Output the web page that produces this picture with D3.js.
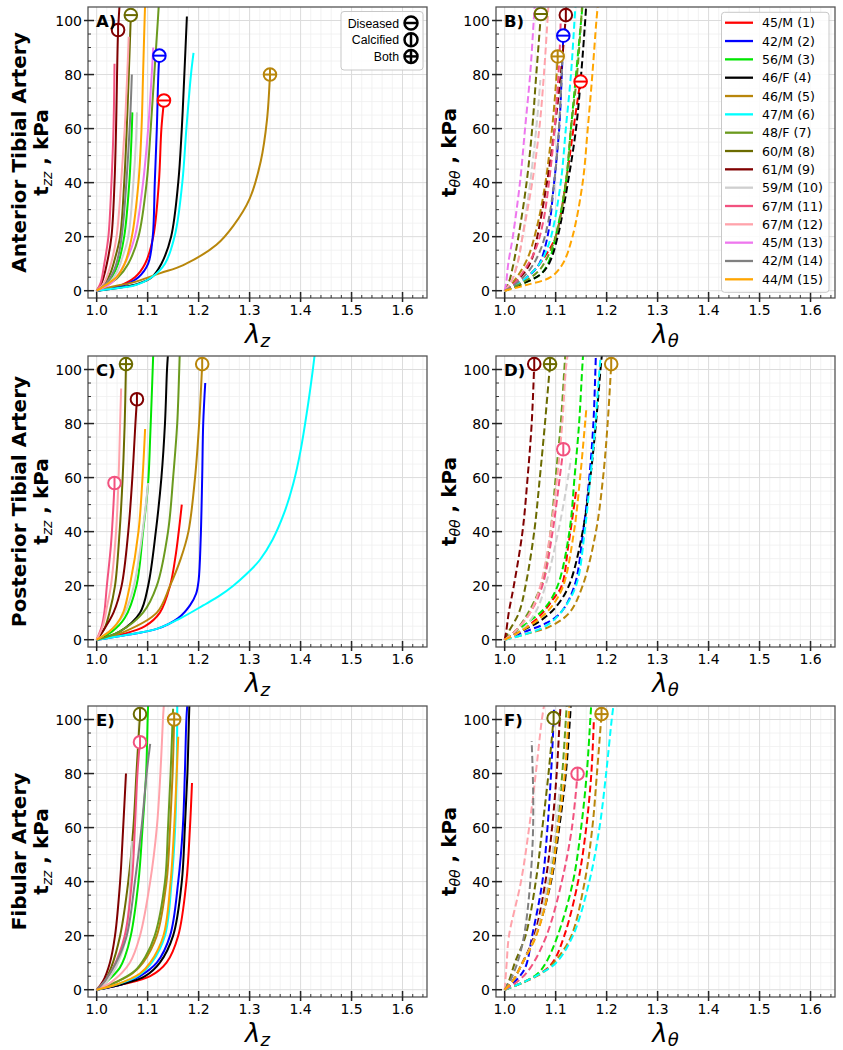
<!DOCTYPE html>
<html lang="en">
<head>
<meta charset="utf-8">
<title>Artery stress vs stretch</title>
<script src="https://d3js.org/d3.v7.min.js"></script>
<style>
  body { margin: 0; background: #fff; }
  svg text { font-family: "DejaVu Sans", sans-serif; }
</style>
</head>
<body>
<script>
// legend entries (patient age/sex (id))
const patients = ["45/M (1)", "42/M (2)", "56/M (3)", "46/F (4)", "46/M (5)", "47/M (6)", "48/F (7)",
  "60/M (8)", "61/M (9)", "59/M (10)", "67/M (11)", "67/M (12)", "45/M (13)", "42/M (14)", "44/M (15)"];
const colors = ["#ff0000", "#0000ff", "#00e600", "#000000", "#b8860b", "#00ffff", "#6b9a1e",
  "#6b6b00", "#800000", "#cfcfcf", "#f2527f", "#ffa3ab", "#ee77ee", "#808080", "#ffa500"];
const xTicks = [1.0, 1.1, 1.2, 1.3, 1.4, 1.5, 1.6];
const yTicks = [0, 20, 40, 60, 80, 100];
const markerKinds = ["Diseased", "Calcified", "Both"];

// curves [stretch, stress kPa], one per patient (null = not tested)
const antZ = [
  [[1,0],[1.04,1.5],[1.075,5],[1.095,10],[1.111,20],[1.122,40],[1.127,60],[1.132,70]],
  [[1,0],[1.05,1.8],[1.082,5],[1.101,10],[1.11,20],[1.114,40],[1.118,60],[1.121,80],[1.123,87]],
  [[1,0],[1.02,2.5],[1.03,5],[1.042,10],[1.054,20],[1.064,40],[1.069,60],[1.07,66]],
  [[1,0],[1.05,1.3],[1.08,2.5],[1.108,5],[1.127,10],[1.146,20],[1.16,40],[1.167,60],[1.172,80],[1.177,101.5]],
  [[1,0],[1.03,1.5],[1.07,3],[1.125,6.5],[1.17,9.5],[1.235,17],[1.268,24],[1.3,34],[1.322,48],[1.334,63],[1.34,80]],
  [[1,0],[1.05,1.2],[1.075,2],[1.108,5],[1.134,10],[1.154,21],[1.168,40],[1.176,60],[1.185,80],[1.19,88]],
  [[1,0],[1.02,2],[1.042,5],[1.062,10],[1.082,20],[1.098,40],[1.106,60],[1.113,80],[1.12,100],[1.122,106]],
  [[1,0],[1.015,2.5],[1.028,7],[1.036,12],[1.046,20],[1.054,40],[1.059,60],[1.063,80],[1.067,102]],
  [[1,0],[1.01,3],[1.02,10],[1.029,20],[1.035,40],[1.038,60],[1.04,80],[1.042,96],[1.045,106]],
  [[1,0],[1.025,3],[1.04,7],[1.05,12],[1.062,20],[1.072,40],[1.077,55],[1.079,66]],
  [[1,0],[1.008,3],[1.015,10],[1.023,20],[1.029,40],[1.033,60],[1.035,84]],
  [[1,0],[1.015,3],[1.028,10],[1.039,20],[1.048,40],[1.055,60],[1.06,80],[1.063,94]],
  [[1,0],[1.03,3],[1.055,10],[1.075,20],[1.091,40],[1.101,60],[1.108,80],[1.111,90]],
  [[1,0],[1.02,3],[1.035,8],[1.045,15],[1.052,25],[1.06,45],[1.066,65],[1.069,80]],
  [[1,0],[1.025,3],[1.039,5],[1.055,10],[1.069,20],[1.082,40],[1.088,60],[1.091,80],[1.094,100],[1.095,106]]
];
const antT = [
  [[1,0],[1.03,3],[1.06,8],[1.08,13],[1.1,20],[1.12,40],[1.135,60],[1.148,77]],
  [[1,0],[1.03,3],[1.05,6],[1.068,10],[1.084,20],[1.097,40],[1.107,60],[1.112,80],[1.115,94]],
  [[1,0],[1.04,3],[1.07,6],[1.085,10],[1.1,20],[1.12,40],[1.13,60],[1.14,80],[1.15,100],[1.153,106]],
  [[1,0],[1.04,3],[1.07,6],[1.087,10],[1.104,20],[1.124,40],[1.14,60],[1.15,80],[1.158,100],[1.16,106]],
  [[1,0],[1.02,4],[1.045,12],[1.065,25],[1.08,40],[1.093,60],[1.1,75],[1.104,86.5]],
  [[1,0],[1.03,3],[1.06,8],[1.075,12],[1.091,20],[1.11,40],[1.12,60],[1.13,80],[1.137,100],[1.139,106]],
  [[1,0],[1.035,3],[1.065,7],[1.08,11],[1.1,20],[1.12,40],[1.13,60],[1.142,80],[1.15,100],[1.152,106]],
  [[1,0],[1.008,3],[1.015,8],[1.027,20],[1.043,40],[1.054,60],[1.062,80],[1.071,102]],
  [[1,0],[1.02,3],[1.04,7],[1.054,12],[1.064,20],[1.083,40],[1.098,60],[1.11,80],[1.12,102],[1.121,106]],
  [[1,0],[1.012,3],[1.025,10],[1.035,20],[1.05,40],[1.062,60],[1.07,78]],
  [[1,0],[1.02,3],[1.04,8],[1.06,15],[1.075,25],[1.09,45],[1.1,65],[1.107,85],[1.11,100]],
  [[1,0],[1.012,3],[1.025,10],[1.035,20],[1.054,40],[1.068,60],[1.077,80],[1.084,100],[1.086,106]],
  [[1,0],[1.003,3],[1.007,10],[1.016,20],[1.03,40],[1.04,60],[1.05,80],[1.057,100],[1.059,106]],
  [[1,0],[1.025,3],[1.05,8],[1.07,15],[1.085,25],[1.1,45],[1.108,65],[1.113,85]],
  [[1,0],[1.04,2],[1.09,5],[1.114,10],[1.133,20],[1.153,40],[1.163,60],[1.172,80],[1.18,100],[1.183,106]]
];
const postZ = [
  [[1,0],[1.05,2],[1.095,5],[1.124,10],[1.144,20],[1.154,30],[1.161,40],[1.167,50]],
  [[1,0],[1.05,1.5],[1.118,4],[1.16,8],[1.183,12.7],[1.195,17],[1.2,22],[1.204,37],[1.207,60],[1.209,80],[1.213,95]],
  [[1,0],[1.03,3],[1.055,8],[1.078,20],[1.091,40],[1.101,58],[1.105,75],[1.108,90],[1.111,106]],
  [[1,0],[1.045,3],[1.085,10],[1.101,20],[1.116,40],[1.127,60],[1.134,80],[1.138,100],[1.14,106]],
  [[1,0],[1.055,3],[1.118,10],[1.144,20],[1.165,30],[1.18,40],[1.193,60],[1.201,80],[1.207,102]],
  [[1,0],[1.05,1.5],[1.118,4],[1.163,7.8],[1.209,12.7],[1.242,16.4],[1.268,20],[1.295,24.5],[1.32,29.5],[1.345,37],[1.368,47],[1.386,58],[1.4,70],[1.413,85],[1.422,97],[1.428,106]],
  [[1,0],[1.045,3],[1.091,10],[1.118,20],[1.14,40],[1.15,60],[1.158,80],[1.162,100],[1.163,106]],
  [[1,0],[1.015,4],[1.025,10],[1.036,20],[1.045,40],[1.051,60],[1.055,80],[1.0575,102]],
  [[1,0],[1.015,4],[1.033,10],[1.049,20],[1.062,40],[1.07,60],[1.076,80],[1.079,89]],
  [[1,0],[1.03,4],[1.055,10],[1.073,20],[1.09,40],[1.101,58]],
  [[1,0],[1.01,5],[1.015,10],[1.02,20],[1.028,35],[1.033,50],[1.035,58]],
  [[1,0],[1.012,5],[1.02,12],[1.028,20],[1.038,40],[1.043,60],[1.046,80],[1.048,93]],
  null,
  null,
  [[1,0],[1.025,3],[1.04,6],[1.052,10],[1.065,20],[1.082,40],[1.09,60],[1.095,78]]
];
const postT = [
  [[1,0],[1.03,3],[1.07,9],[1.095,15],[1.112,20],[1.125,35],[1.135,48],[1.14,55]],
  [[1,0],[1.04,3],[1.08,6],[1.11,10],[1.137,20],[1.154,40],[1.166,60],[1.174,80],[1.178,100],[1.179,106]],
  [[1,0],[1.02,3],[1.05,7],[1.08,12],[1.104,20],[1.127,40],[1.137,60],[1.146,80],[1.152,100],[1.154,106]],
  [[1,0],[1.03,3],[1.07,7],[1.1,12],[1.126,20],[1.153,40],[1.168,60],[1.179,80],[1.188,100],[1.191,106]],
  [[1,0],[1.04,2],[1.09,5],[1.127,10],[1.153,20],[1.179,40],[1.193,60],[1.202,80],[1.209,102]],
  [[1,0],[1.04,2],[1.08,5],[1.11,10],[1.14,20],[1.157,40],[1.168,60],[1.178,80],[1.186,100],[1.189,106]],
  [[1,0],[1.02,3],[1.04,8],[1.06,15],[1.075,22],[1.09,40],[1.1,60],[1.11,80],[1.117,100],[1.119,106]],
  [[1,0],[1.008,3],[1.028,10],[1.041,20],[1.058,40],[1.069,60],[1.079,80],[1.089,102]],
  [[1,0],[1.003,3],[1.008,10],[1.018,20],[1.035,40],[1.045,60],[1.053,80],[1.058,102]],
  [[1,0],[1.03,3],[1.06,10],[1.08,20],[1.105,40],[1.12,55],[1.13,67]],
  [[1,0],[1.02,3],[1.05,10],[1.074,20],[1.094,40],[1.108,60],[1.115,70.5]],
  [[1,0],[1.02,3],[1.05,10],[1.07,20],[1.09,40],[1.103,60],[1.113,80],[1.12,100],[1.124,106]],
  null,
  null,
  [[1,0],[1.03,3],[1.07,8],[1.095,13],[1.115,20],[1.136,40],[1.148,60],[1.16,85]]
];
const fibZ = [
  [[1,0],[1.05,2],[1.105,5],[1.137,10],[1.16,20],[1.176,40],[1.183,60],[1.187,76.5]],
  [[1,0],[1.05,2],[1.085,5],[1.118,10],[1.144,20],[1.16,40],[1.169,60],[1.173,80],[1.176,100],[1.178,106]],
  [[1,0],[1.02,3],[1.045,8],[1.055,12],[1.067,20],[1.082,40],[1.09,60],[1.097,80],[1.1,100],[1.101,106]],
  [[1,0],[1.05,2],[1.095,5],[1.124,10],[1.15,20],[1.167,40],[1.173,60],[1.178,80],[1.181,100],[1.182,106]],
  [[1,0],[1.04,3],[1.07,6],[1.091,10],[1.118,20],[1.137,40],[1.144,60],[1.149,80],[1.152,100]],
  [[1,0],[1.04,2],[1.08,5],[1.108,10],[1.134,20],[1.147,40],[1.154,60],[1.157,80],[1.158,106]],
  [[1,0],[1.04,3],[1.075,7],[1.095,12],[1.114,20],[1.134,40],[1.14,60],[1.145,80],[1.149,100],[1.15,104]],
  [[1,0],[1.015,3],[1.028,8],[1.046,20],[1.062,40],[1.072,60],[1.078,80],[1.085,102]],
  [[1,0],[1.012,3],[1.026,10],[1.036,20],[1.046,40],[1.052,60],[1.0575,80]],
  [[1,0],[1.02,3],[1.042,10],[1.058,20],[1.066,40],[1.069,55]],
  [[1,0],[1.015,3],[1.032,8],[1.055,20],[1.069,40],[1.075,60],[1.08,80],[1.085,91.6]],
  [[1,0],[1.03,3],[1.065,10],[1.085,20],[1.105,40],[1.118,60],[1.125,80],[1.13,100],[1.132,106]],
  null,
  [[1,0],[1.015,3],[1.038,10],[1.059,20],[1.075,40],[1.088,60],[1.098,80],[1.105,91]],
  [[1,0],[1.04,2],[1.085,6],[1.105,10],[1.131,20],[1.145,40],[1.152,60],[1.157,80],[1.16,93.6]]
];
const fibT = [
  [[1,0],[1.04,3],[1.07,6],[1.094,10],[1.117,20],[1.144,40],[1.16,60],[1.17,80],[1.175,100]],
  [[1,0],[1.02,3],[1.04,8],[1.054,20],[1.074,40],[1.084,60],[1.091,80],[1.096,100],[1.097,106]],
  [[1,0],[1.04,3],[1.065,6],[1.081,10],[1.104,20],[1.134,40],[1.15,60],[1.161,80],[1.168,100],[1.17,106]],
  [[1,0],[1.015,3],[1.035,10],[1.061,20],[1.091,40],[1.107,60],[1.12,80],[1.128,100],[1.13,106]],
  [[1,0],[1.04,3],[1.08,7],[1.105,12],[1.131,20],[1.157,40],[1.172,60],[1.181,80],[1.19,102]],
  [[1,0],[1.04,3],[1.07,6],[1.101,10],[1.134,20],[1.166,40],[1.186,60],[1.199,80],[1.21,100],[1.214,106]],
  [[1,0],[1.015,3],[1.035,10],[1.06,20],[1.088,40],[1.103,60],[1.113,80],[1.12,100],[1.122,106]],
  [[1,0],[1.008,3],[1.02,10],[1.041,20],[1.061,40],[1.074,60],[1.086,80],[1.096,100.5]],
  [[1,0],[1.015,3],[1.035,10],[1.058,20],[1.08,40],[1.093,60],[1.102,80],[1.108,100],[1.11,106]],
  [[1,0],[1.015,3],[1.035,10],[1.06,20],[1.085,40],[1.1,60],[1.108,75]],
  [[1,0],[1.025,3],[1.05,8],[1.082,20],[1.112,40],[1.132,60],[1.143,80]],
  [[1,0],[1.002,5],[1.004,10],[1.0085,20],[1.032,40],[1.048,60],[1.061,80],[1.073,100],[1.078,106]],
  null,
  [[1,0],[1.01,3],[1.025,10],[1.038,20],[1.048,35],[1.055,55],[1.056,72],[1.053,92]],
  [[1,0],[1.015,3],[1.035,10],[1.062,20],[1.09,40],[1.105,60],[1.118,80],[1.125,100],[1.127,106]]
];

// marked samples: [patient no., stretch, stress, kind]
const antZMarks = [[8, 1.067, 102, "Diseased"], [9, 1.042, 96.5, "Calcified"], [2, 1.123, 87, "Diseased"],
  [1, 1.132, 70.4, "Diseased"], [5, 1.34, 80, "Both"]];
const antTMarks = [[8, 1.071, 102.4, "Diseased"], [9, 1.12, 102, "Calcified"], [2, 1.115, 94.4, "Diseased"],
  [5, 1.104, 86.7, "Both"], [1, 1.149, 77.4, "Diseased"]];
const postZMarks = [[8, 1.0575, 102, "Both"], [9, 1.079, 89, "Calcified"], [11, 1.035, 58, "Calcified"],
  [5, 1.207, 102, "Calcified"]];
const postTMarks = [[9, 1.058, 102, "Calcified"], [8, 1.089, 102, "Both"], [11, 1.115, 70.5, "Calcified"],
  [5, 1.209, 102, "Calcified"]];
const fibZMarks = [[8, 1.085, 102, "Calcified"], [11, 1.085, 91.6, "Calcified"], [5, 1.152, 100, "Both"]];
const fibTMarks = [[8, 1.096, 100.5, "Calcified"], [11, 1.143, 79.9, "Calcified"], [5, 1.19, 102, "Both"]];

const W = 843, H = 1050;
const colX = [88, 496];
const rowY = [7, 356, 706];
const pw = 339, ph = 291;

const panels = [
  {tag: "A)", data: antZ, marks: antZMarks, dash: false, c: 0, r: 0, artery: "Anterior Tibial Artery"},
  {tag: "B)", data: antT, marks: antTMarks, dash: true, c: 1, r: 0},
  {tag: "C)", data: postZ, marks: postZMarks, dash: false, c: 0, r: 1, artery: "Posterior Tibial Artery"},
  {tag: "D)", data: postT, marks: postTMarks, dash: true, c: 1, r: 1},
  {tag: "E)", data: fibZ, marks: fibZMarks, dash: false, c: 0, r: 2, artery: "Fibular Artery"},
  {tag: "F)", data: fibT, marks: fibTMarks, dash: true, c: 1, r: 2}
];

const svg = d3.select("body").append("svg")
  .attr("width", W).attr("height", H);

const x = d3.scaleLinear().domain([0.983, 1.648]).range([0, pw]);
const y = d3.scaleLinear().domain([-2.7, 105]).range([ph, 0]);

const xMinor = d3.range(0, 34).map(i => 0.98 + i * 0.02).filter(v => v > 0.983 && v < 1.648);
const yMinor = d3.range(0, 21).map(i => i * 5).filter(v => v % 20 !== 0);

const line = d3.line()
  .x(d => x(d[0]))
  .y(d => y(d[1]))
  .curve(d3.curveCatmullRom.alpha(0.5));

function drawMark(g, cx, cy, kind, color, rad, sw) {
  const m = g.append("g").attr("transform", "translate(" + cx + "," + cy + ")");
  m.append("circle").attr("r", rad).attr("fill", "#fff")
    .attr("stroke", color).attr("stroke-width", sw);
  if (kind === "Diseased" || kind === "Both")
    m.append("line").attr("x1", -rad).attr("x2", rad).attr("stroke", color).attr("stroke-width", sw);
  if (kind === "Calcified" || kind === "Both")
    m.append("line").attr("y1", -rad).attr("y2", rad).attr("stroke", color).attr("stroke-width", sw);
}

panels.forEach((p, pi) => {
  const g = svg.append("g")
    .attr("transform", "translate(" + colX[p.c] + "," + rowY[p.r] + ")");

  g.append("clipPath").attr("id", "clip" + pi)
    .append("rect").attr("width", pw).attr("height", ph);

  // grid
  g.selectAll(".gx").data(xMinor).enter().append("line")
    .attr("x1", d => x(d)).attr("x2", d => x(d)).attr("y1", 0).attr("y2", ph)
    .attr("stroke", "#efefef").attr("stroke-width", 0.8);
  g.selectAll(".gy").data(yMinor).enter().append("line")
    .attr("y1", d => y(d)).attr("y2", d => y(d)).attr("x1", 0).attr("x2", pw)
    .attr("stroke", "#efefef").attr("stroke-width", 0.8);
  g.selectAll(".Gx").data(xTicks).enter().append("line")
    .attr("x1", d => x(d)).attr("x2", d => x(d)).attr("y1", 0).attr("y2", ph)
    .attr("stroke", "#dcdcdc").attr("stroke-width", 1);
  g.selectAll(".Gy").data(yTicks).enter().append("line")
    .attr("y1", d => y(d)).attr("y2", d => y(d)).attr("x1", 0).attr("x2", pw)
    .attr("stroke", "#dcdcdc").attr("stroke-width", 1);

  // curves
  const cg = g.append("g").attr("clip-path", "url(#clip" + pi + ")");
  p.data.forEach((pts, i) => {
    if (!pts) return;
    cg.append("path")
      .attr("d", line(pts))
      .attr("fill", "none")
      .attr("stroke", colors[i])
      .attr("stroke-width", 2)
      .attr("stroke-dasharray", p.dash ? "7,3.5" : null);
  });

  // markers
  p.marks.forEach(m => {
    drawMark(g, x(m[1]), y(m[2]), m[3], colors[m[0] - 1], 6.3, 2);
  });

  // frame
  g.append("rect").attr("width", pw).attr("height", ph)
    .attr("fill", "none").attr("stroke", "#555").attr("stroke-width", 1.3);

  // ticks
  g.selectAll(".tx").data(xTicks).enter().append("line")
    .attr("x1", d => x(d)).attr("x2", d => x(d)).attr("y1", ph + 4).attr("y2", ph - 6)
    .attr("stroke", "#222").attr("stroke-width", 1.5);
  g.selectAll(".mx").data(xMinor).enter().append("line")
    .attr("x1", d => x(d)).attr("x2", d => x(d)).attr("y1", ph).attr("y2", ph - 3)
    .attr("stroke", "#333").attr("stroke-width", 1);
  g.selectAll(".ty").data(yTicks).enter().append("line")
    .attr("y1", d => y(d)).attr("y2", d => y(d)).attr("x1", -4).attr("x2", 6)
    .attr("stroke", "#222").attr("stroke-width", 1.5);
  g.selectAll(".my").data(yMinor).enter().append("line")
    .attr("y1", d => y(d)).attr("y2", d => y(d)).attr("x1", 0).attr("x2", 3)
    .attr("stroke", "#333").attr("stroke-width", 1);

  g.selectAll(".lx").data(xTicks).enter().append("text")
    .attr("x", d => x(d)).attr("y", ph + 17)
    .attr("text-anchor", "middle").attr("font-size", 14)
    .text(d => d.toFixed(1));
  g.selectAll(".ly").data(yTicks).enter().append("text")
    .attr("x", -6).attr("y", d => y(d) + 5)
    .attr("text-anchor", "end").attr("font-size", 14)
    .text(d => d);

  // panel tag
  g.append("text").attr("x", 8).attr("y", y(100) + 6)
    .attr("font-size", 16.5).attr("font-weight", "bold").text(p.tag);

  // x label
  const xl = g.append("text").attr("x", pw / 2).attr("y", ph + 45)
    .attr("text-anchor", "middle").attr("font-size", 26).attr("font-style", "italic");
  xl.append("tspan").text("λ");
  xl.append("tspan").attr("font-size", 18).attr("dy", 4).text(p.dash ? "θ" : "z");

  // y label
  const yl = g.append("text")
    .attr("transform", "translate(-40," + (ph / 2) + ") rotate(-90)")
    .attr("text-anchor", "middle").attr("font-size", 20).attr("font-weight", "bold");
  yl.append("tspan").text("t");
  yl.append("tspan").attr("font-size", 14).attr("font-style", "italic").attr("font-weight", "normal")
    .attr("dy", 4).text(p.dash ? "θθ" : "zz");
  yl.append("tspan").attr("dy", -4).text(" , kPa");

  if (p.artery) {
    g.append("text")
      .attr("transform", "translate(-62," + (ph / 2) + ") rotate(-90)")
      .attr("text-anchor", "middle").attr("font-size", 20).attr("font-weight", "bold")
      .text(p.artery);
  }
});

// marker legend (panel A)
const ml = svg.append("g").attr("transform", "translate(" + colX[0] + "," + rowY[0] + ")");
ml.append("rect").attr("x", 253).attr("y", 4.5).attr("width", 82).attr("height", 58.5)
  .attr("rx", 3).attr("fill", "#fff").attr("fill-opacity", 0.85)
  .attr("stroke", "#c8c8c8").attr("stroke-width", 1);
markerKinds.forEach((k, i) => {
  ml.append("text").attr("x", 311).attr("y", 20.5 + i * 16.7)
    .attr("text-anchor", "end").attr("font-size", 12.3)
    .style("font-family", "'Liberation Sans', Arial, sans-serif").text(k);
  drawMark(ml, 323, 16 + i * 16.7, k, "#000", 6.5, 2.5);
});

// patient legend (panel B)
const pl = svg.append("g").attr("transform", "translate(" + colX[1] + "," + rowY[0] + ")");
pl.append("rect").attr("x", 225.5).attr("y", 5.3).attr("width", 107.5).attr("height", 280)
  .attr("rx", 3).attr("fill", "#fff").attr("fill-opacity", 0.85)
  .attr("stroke", "#c8c8c8").attr("stroke-width", 1);
patients.forEach((name, i) => {
  const yy = 15.7 + i * 18.33;
  pl.append("line").attr("x1", 229).attr("x2", 257).attr("y1", yy).attr("y2", yy)
    .attr("stroke", colors[i]).attr("stroke-width", 2.3);
  pl.append("text").attr("x", 266).attr("y", yy + 4.5)
    .attr("font-size", 12.6).text(name);
});
</script>
</body>
</html>
